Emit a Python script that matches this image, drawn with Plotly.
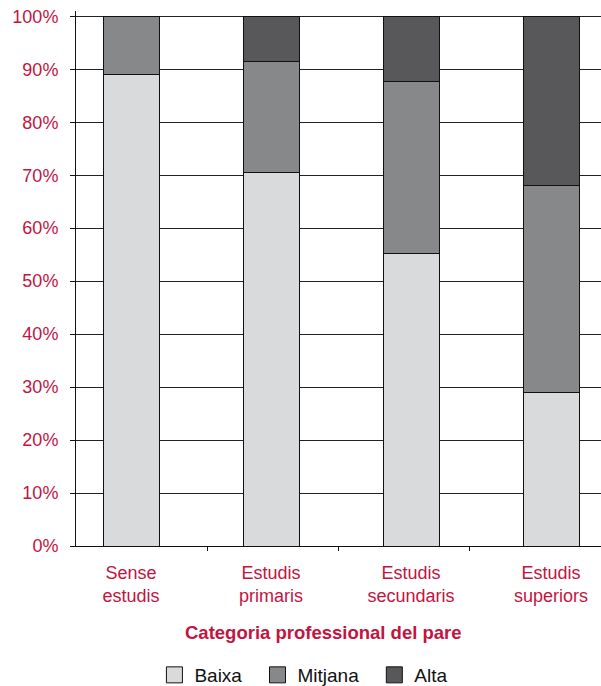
import plotly.graph_objects as go

categories = ["Sense<br>estudis", "Estudis<br>primaris", "Estudis<br>secundaris", "Estudis<br>superiors"]
series_names = ["Baixa", "Mitjana", "Alta"]
baixa = [89.1, 70.5, 55.3, 28.9]
mitjana = [10.9, 21.0, 32.3, 39.1]
alta = [0.0, 8.5, 12.4, 32.0]
colors = ["#d9dadc", "#87888a", "#58585a"]
y_ticks = [0, 10, 20, 30, 40, 50, 60, 70, 80, 90, 100]
x_separator_ticks = [0.543, 1.479, 2.421]

crimson = "#c3143f"
font_family = "Liberation Sans, Arial, sans-serif"
NBSP = "\u00a0"

fig = go.Figure()
xs = list(range(len(categories)))
for name, vals, col in zip(series_names, [baixa, mitjana, alta], colors):
    fig.add_trace(go.Bar(
        x=xs, y=vals, name=name, width=0.4,
        marker=dict(color=col, line=dict(color="#111111", width=1)),
        showlegend=False,
    ))
    # legend proxy with larger square symbol
    fig.add_trace(go.Scatter(
        x=[None], y=[None], mode="markers", name=name + NBSP * 2,
        marker=dict(symbol="square", size=22, color=col, line=dict(color="#111111", width=1)),
        showlegend=True,
    ))

fig.update_layout(
    width=601, height=686,
    barmode="stack",
    plot_bgcolor="white", paper_bgcolor="white",
    margin=dict(l=76, r=0, t=11, b=140, autoexpand=False),
    font=dict(family=font_family, size=18, color="#111111"),
    legend=dict(
        orientation="h", xref="container", yref="container",
        x=0.514, xanchor="center", y=1 - 675 / 686, yanchor="middle",
        font=dict(size=19, color="#111111"), itemsizing="trace",
        traceorder="normal",
    ),
    annotations=[dict(
        text="<b>Categoria professional del pare</b>",
        xref="paper", yref="paper", x=0.4705, y=-0.1626,
        xanchor="center", yanchor="middle", showarrow=False,
        font=dict(size=18.5, color=crimson, family=font_family),
    )],
)
fig.update_xaxes(
    range=[-0.393, 3.357], tickmode="array", tickvals=xs, ticktext=categories,
    showgrid=False, showline=True, linecolor="#111111", linewidth=1,
    ticks="", tickfont=dict(size=18, color=crimson), ticklabelstandoff=10,
    minor=dict(tickmode="array", tickvals=x_separator_ticks, ticks="outside",
               ticklen=4, tickcolor="#111111", showgrid=False),
    zeroline=False, automargin=False,
)
fig.update_yaxes(
    range=[0, 101], tickmode="array", tickvals=y_ticks,
    ticktext=[f"{v}%" for v in y_ticks],
    showgrid=True, gridcolor="#222222", gridwidth=1,
    showline=True, linecolor="#111111", linewidth=1,
    ticks="outside", ticklen=5, tickcolor="#111111",
    tickfont=dict(size=18, color=crimson), ticklabelstandoff=8,
    zeroline=False, automargin=False,
)

fig.write_html(
    "out.html",
    config={"displayModeBar": False},
    post_script="document.body.style.margin='0';document.body.style.overflow='hidden';",
)
